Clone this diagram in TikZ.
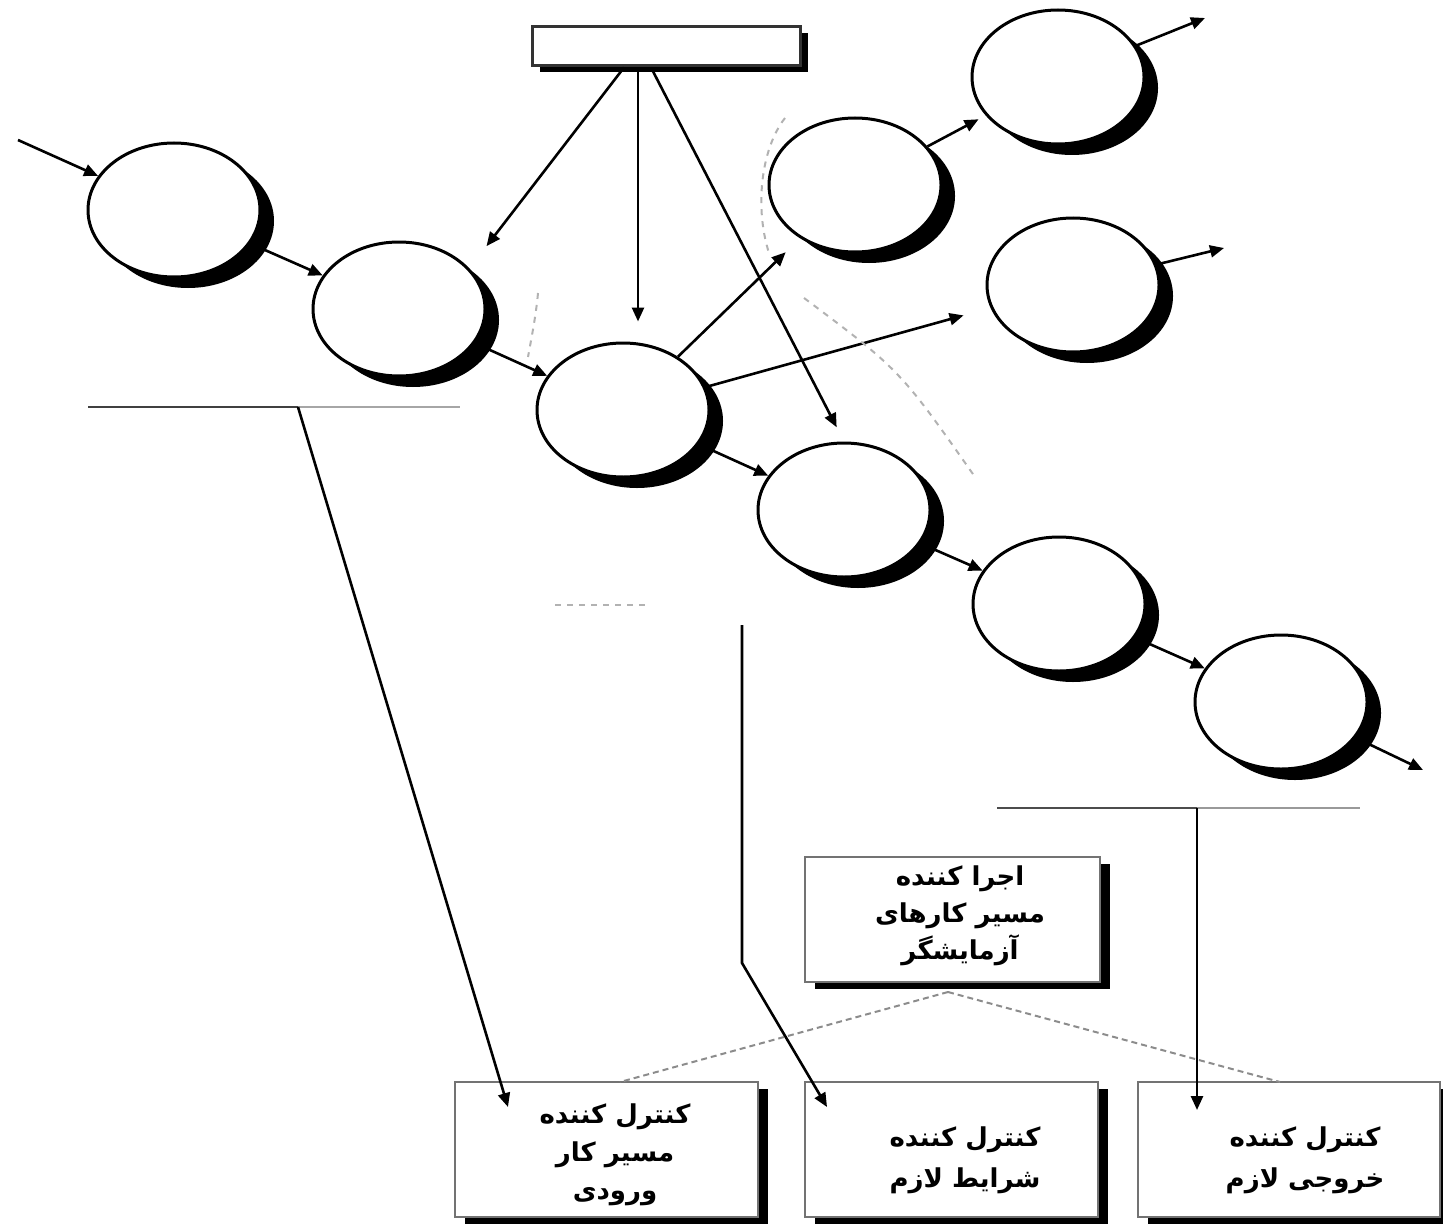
\documentclass[tikz,border=0pt]{standalone}
\usepackage{fontspec}
\newfontfamily\fa[Script=Arabic]{DejaVu Sans}
\TeXXeTstate=1
\usetikzlibrary{shapes.geometric,shadows,arrows.meta}
\begin{document}
\begin{tikzpicture}[x=0.5pt,y=-0.5pt,
  proc/.style={ellipse, draw=black, line width=1.5pt, fill=white,
    minimum width=86pt, minimum height=67pt, inner sep=0pt,
    drop shadow={shadow xshift=7pt, shadow yshift=-5.5pt, opacity=1, fill=black}},
  pbox/.style={rectangle, draw=black!55, line width=1pt, fill=white, inner sep=0pt,
    drop shadow={shadow xshift=5pt, shadow yshift=-3.5pt, opacity=1, fill=black}},
  ptext/.style={align=center, inner sep=0pt, font=\fa\bfseries\fontsize{13}{20.5}\selectfont},
  arr/.style={line width=1.3pt, -{Triangle[length=7pt,width=6pt]}},
  faint/.style={draw=black!30, line width=1pt, dashed},
  rule/.style={line width=1.3pt}
]
\useasboundingbox (0,0) rectangle (1443,1225);

% top bar
\node[rectangle, draw=black!80, line width=1.5pt, fill=white, inner sep=0pt,
  minimum width=134pt, minimum height=19.5pt,
  drop shadow={shadow xshift=4pt, shadow yshift=-3pt, opacity=1, fill=black}]
  (bar) at (666,46.5) {};
\coordinate (b1) at ([xshift=-21pt]bar.south);
\coordinate (b2) at ([xshift=-14pt]bar.south);
\coordinate (b3) at ([xshift=-7.5pt]bar.south);

% process ellipses
\node[proc] (c1) at (174,210) {};
\node[proc] (c2) at (399,309) {};
\node[proc] (c3) at (623,410) {};
\node[proc] (c4) at (855,185) {};
\node[proc] (c5) at (1058,77) {};
\node[proc] (c6) at (1073,285) {};
\node[proc] (c7) at (844,510) {};
\node[proc] (c8) at (1059,604) {};
\node[proc] (c9) at (1281,702) {};

% free ends
\coordinate (in1) at (18,140);
\coordinate (o5) at (1205,18);
\coordinate (o6) at (1224,248);
\coordinate (o9) at (1423,770);

% arrows between ellipses
\draw[arr] (in1) -- (c1);
\draw[arr] (c1) -- (c2);
\draw[arr] (c2) -- (c3);
\draw[arr] (c3) -- (c7);
\draw[arr] (c7) -- (c8);
\draw[arr] (c8) -- (c9);
\draw[arr, shorten >=10pt] (c3) -- (c4);
\draw[arr, shorten >=14pt] (c3) -- (c6);
\draw[arr, shorten >=4pt] (c4) -- (c5);
\draw[arr] (c5) -- (o5);
\draw[arr] (c6) -- (o6);
\draw[arr] (c9) -- (o9);

% arrows from the bar
\draw[arr, shorten >=14pt] (b1) -- (c2.30);
\draw[arr, shorten >=10pt] (b2) -- (b2 |- c3.north);
\draw[arr, shorten >=8pt] (b3) -- (c7.north);

% boxes
\node[pbox, minimum width=147.5pt, minimum height=62.5pt] (tbox) at (952.5,919.5) {};
\node[pbox, minimum width=151.5pt, minimum height=67.5pt] (lbox) at (606.5,1149.5) {};
\node[pbox, minimum width=146.5pt, minimum height=67.5pt] (mbox) at (951.5,1149.5) {};
\node[pbox, minimum width=151pt, minimum height=67.5pt] (rbox) at (1289,1149.5) {};

% box texts
\node[ptext, font=\fa\bfseries\fontsize{13}{18.5}\selectfont] (ttext) at (960,916)
  {\beginR اجرا کننده\endR\\\beginR مسیر کارهای\endR\\\beginR آزمایشگر\endR};
\node[ptext, font=\fa\bfseries\fontsize{13}{19}\selectfont] (ltext) at (615,1155)
  {\beginR کنترل کننده\endR\\\beginR مسیر کار\endR\\\beginR ورودی\endR};
\node[ptext] (mtext) at (965,1160)
  {\beginR کنترل کننده\endR\\\beginR شرایط لازم\endR};
\node[ptext] (rtext) at (1305,1160)
  {\beginR کنترل کننده\endR\\\beginR خروجی لازم\endR};

% horizontal rules
\coordinate (h1a) at (88,407);
\coordinate (h1m) at (298,407);
\coordinate (h1b) at (460,407);
\draw[rule, black!75] (h1a) -- (h1m);
\draw[rule, black!35] (h1m) -- (h1b);
\coordinate (h3a) at (997,808);
\coordinate (h3m) at (1197,808);
\coordinate (h3b) at (1360,808);
\draw[rule, black!70] (h3a) -- (h3m);
\draw[rule, black!40] (h3m) -- (h3b);

% connectors to the lower boxes
\coordinate (t1) at (508,1107);
\coordinate (m0) at (742,625);
\coordinate (m1) at (742,963);
\coordinate (t2) at (827,1107);
\coordinate (t3) at (1197,1110);
\draw[arr] (h1m) -- (t1);
\draw[arr] (m0) -- (m1) -- (t2);
\draw[arr] (h3m) -- (t3);

% dashed links from the top box
\coordinate (d0) at (948,992);
\coordinate (d1) at (620,1082);
\coordinate (d2) at (1280,1082);
\draw[draw=black!45, line width=1pt, densely dashed] (d0) -- (d1);
\draw[draw=black!45, line width=1pt, densely dashed] (d0) -- (d2);

% faint grouping arcs
\draw[faint] (538,293) .. controls (536,315) and (532,335) .. (528,357);
\draw[faint] (785,118) .. controls (760,150) and (755,210) .. (769,253);
\draw[faint] (804,298) .. controls (900,370) .. (975,477);
\draw[faint] (555,605) -- (645,605);
\end{tikzpicture}
\end{document}
